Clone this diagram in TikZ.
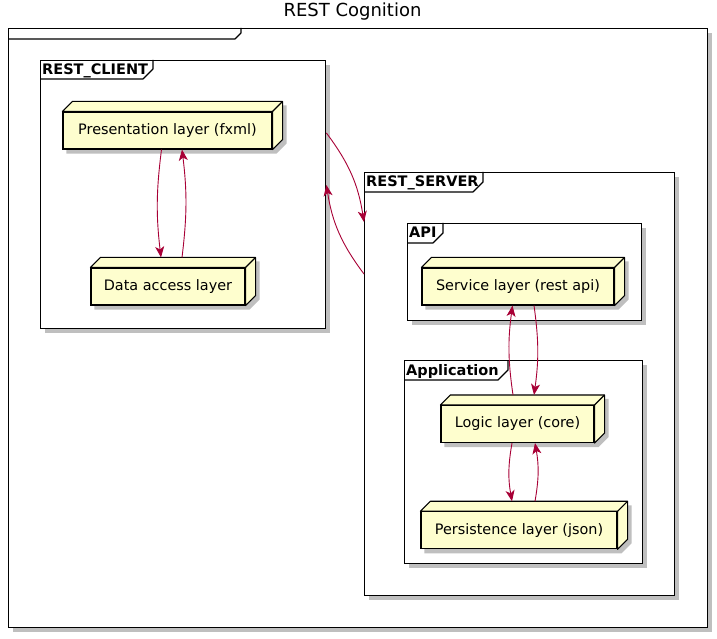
\documentclass[tikz,border=0pt]{standalone}
\usepackage{fontspec}
\setmainfont{DejaVu Sans}
\usetikzlibrary{arrows.meta,shadows}
\pgfdeclarelayer{frames}
\pgfdeclarelayer{shade}
\pgfsetlayers{frames,shade,main}

\definecolor{nodeFill}{RGB}{254,254,206}
\definecolor{arrowColor}{RGB}{168,0,54}

\tikzset{
  frame/.style={draw=black, fill=white, line width=1.4pt, inner sep=0pt, anchor=north west,
    drop shadow={shadow xshift=4pt, shadow yshift=-4pt, fill=black, opacity=0.25}},
  tab/.style={draw=black, line width=1.2pt, line join=round},
  tablabel/.style={anchor=base west, inner sep=0pt, font=\fontsize{14.5}{17}\selectfont\bfseries},
  layerbox/.style={draw=black, fill=nodeFill, line width=1.1pt, minimum height=37pt, inner sep=0pt,
    font=\fontsize{14.4}{17}\selectfont},
  link/.style={draw=arrowColor, line width=0.9pt, -{Stealth[length=11pt,width=9pt,inset=3pt]}},
}

\begin{document}
\begin{tikzpicture}[x=1pt,y=1pt]
\path[use as bounding box] (0,0) rectangle (717,638);

\node[font=\fontsize{18}{21}\selectfont, anchor=base, inner sep=0pt] (title) at (352.5,621) {REST Cognition};

% frames
\begin{pgfonlayer}{frames}
\node[frame, minimum width=699pt, minimum height=599pt] (cog) at (8,610) {};
\node[frame, minimum width=285pt, minimum height=268pt] (client) at (40,578) {};
\node[frame, minimum width=310pt, minimum height=423pt] (server) at (364,466) {};
\node[frame, minimum width=234pt, minimum height=97pt] (api) at (407,415) {};
\node[frame, minimum width=238pt, minimum height=203pt] (app) at (404,278) {};

\foreach \f/\w/\h/\s in {cog/233/11/6, client/113/19/10, server/119/20/10, api/36/20/10, app/104/20/10}
  \draw[tab] ([shift={(0,-\h)}]\f.north west) -- ++({\w-\s},0) -- ++(\s,\s) -- ++(0,{\h-\s});
\end{pgfonlayer}

\node[tablabel] (clientlabel) at ([shift={(2,-15)}]client.north west) {REST\_CLIENT};
\node[tablabel] (serverlabel) at ([shift={(2,-15)}]server.north west) {REST\_SERVER};
\node[tablabel] (apilabel) at ([shift={(2,-15)}]api.north west) {API};
\node[tablabel] (applabel) at ([shift={(2,-15)}]app.north west) {Application};

% layers
\node[layerbox, minimum width=209pt] (pres) at (167.5,507.5) {Presentation layer (fxml)};
\node[layerbox, minimum width=154pt] (data) at (168,351.5) {Data access layer};
\node[layerbox, minimum width=192pt] (svc) at (518,351.5) {Service layer (rest api)};
\node[layerbox, minimum width=153pt] (logic) at (517.5,214) {Logic layer (core)};
\node[layerbox, minimum width=196pt] (pers) at (519,107.7) {Persistence layer (json)};

\foreach \n in {pres,data,svc,logic,pers} {
  \begin{pgfonlayer}{shade}
  \fill[black, opacity=0.25] ([shift={(4,-4)}]\n.south west) -- ([shift={(4,-4)}]\n.north west)
    -- ([shift={(14,6)}]\n.north west) -- ([shift={(14,6)}]\n.north east)
    -- ([shift={(14,6)}]\n.south east) -- ([shift={(4,-4)}]\n.south east) -- cycle;
  \end{pgfonlayer}
  \filldraw[fill=nodeFill, line width=1.1pt, line join=round] (\n.north west) -- ++(10,10)
    -- ([shift={(10,10)}]\n.north east) -- ([shift={(10,10)}]\n.south east)
    -- (\n.south east) -- (\n.north east) -- cycle;
  \draw[line width=1.1pt] (\n.north east) -- ++(10,10);
}

% connectors
\draw[link] ([xshift=-6]pres.south) to[bend right=7] ([shift={(-7,10)}]data.north);
\draw[link] ([shift={(14,10)}]data.north) to[bend right=7] ([xshift=14.5]pres.south);
\draw[link] ([yshift=-73]client.north east) to[bend left=14] ([yshift=-50]server.north west);
\draw[link] ([yshift=-102]server.north west) to[bend left=14] ([yshift=-125]client.north east);
\draw[link] ([shift={(-4.5,10)}]logic.north) to[bend left=8] ([xshift=-5.5]svc.south);
\draw[link] ([xshift=16]svc.south) to[bend left=8] ([shift={(16.5,10)}]logic.north);
\draw[link] ([xshift=-5.5]logic.south) to[bend right=10] ([shift={(-7,10)}]pers.north);
\draw[link] ([shift={(16,10)}]pers.north) to[bend right=10] ([xshift=17.5]logic.south);
\end{tikzpicture}
\end{document}
